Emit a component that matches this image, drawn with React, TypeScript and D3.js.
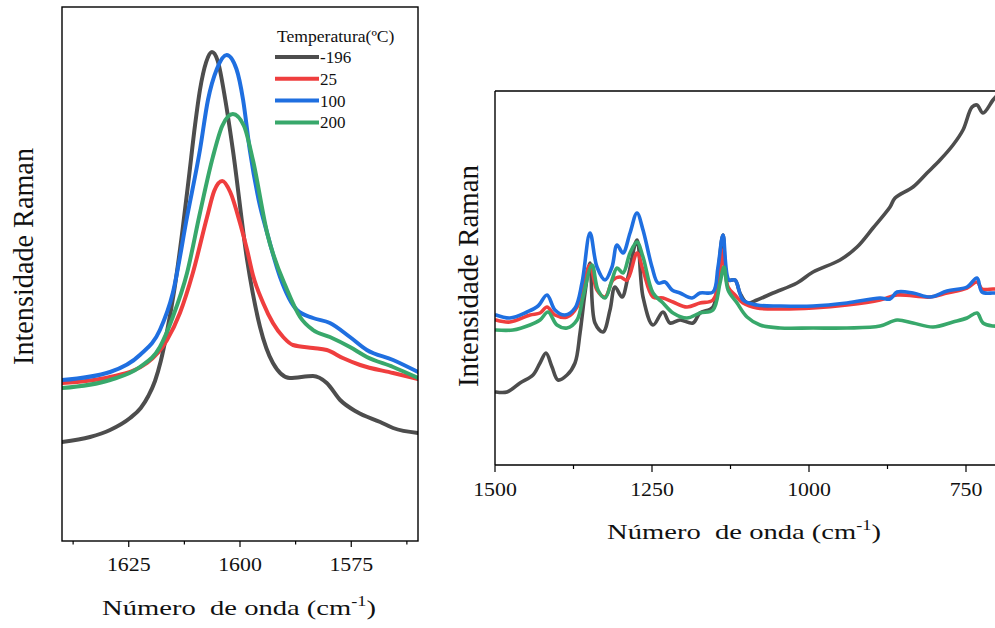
import React from "react";
import * as d3 from "d3";

type Pt = [number, number];

// ---------- Left panel (G band) : [wavenumber, intensity a.u.] ----------
const leftSeriesNames = ["-196", "25", "100", "200"];
const leftColors = ["#4d4d4d", "#ef3e3e", "#1f6fe0", "#38a86b"];

const leftBlack: Pt[] = [
  [1640, 99], [1633.7, 104], [1629.2, 111], [1624.7, 123], [1622.3, 133], [1620.6, 145],
  [1619.1, 160], [1617.8, 180], [1616.5, 207], [1614.8, 250], [1613, 308], [1611.5, 363],
  [1610.1, 416], [1609, 451], [1607.6, 479], [1606.3, 489], [1605, 480], [1603.3, 441],
  [1601.6, 391], [1598.4, 281], [1595.5, 214], [1592.6, 178], [1588.8, 163], [1583.6, 165],
  [1580.5, 158], [1577.5, 141], [1573.7, 129], [1568.5, 119], [1565.6, 113], [1560, 108],
];
const leftRed: Pt[] = [
  [1640, 158], [1629.2, 164], [1620.9, 178], [1616.4, 201], [1613.5, 228], [1610.6, 268],
  [1607.4, 324], [1605.8, 350], [1604, 360], [1602.2, 349], [1600, 318], [1598.4, 291],
  [1597.1, 266], [1594.8, 238], [1592.6, 218], [1590.3, 204], [1588.1, 196], [1583.6, 193],
  [1580.5, 191], [1576.9, 183], [1573, 176], [1565.6, 168], [1560, 162],
];
const leftBlue: Pt[] = [
  [1640, 161], [1629.2, 169], [1622.5, 186], [1618, 211], [1615.1, 248], [1611.9, 324],
  [1609, 391], [1607.2, 441], [1605.2, 472], [1603, 486], [1600.8, 472], [1599.3, 441],
  [1597.8, 391], [1595.8, 341], [1593.9, 308], [1591, 264], [1587.2, 231], [1583.6, 223],
  [1579.8, 218], [1575.3, 204], [1571.5, 191], [1565.6, 181], [1560, 169],
];
const leftGreen: Pt[] = [
  [1640, 153], [1629.2, 161], [1622.5, 174], [1618, 194], [1615.1, 224], [1611.9, 268],
  [1609, 328], [1606.1, 384], [1604, 415], [1601.6, 427], [1599.1, 415], [1597.1, 381],
  [1593.9, 308], [1589.4, 251], [1586.5, 224], [1583.6, 211], [1579.8, 204], [1575.3, 194],
  [1571.5, 184], [1565.6, 174], [1560, 163],
];

// ---------- Right panel (1500-700 cm-1) ----------
const rightBlack: Pt[] = [
  [1498.4, 73], [1480.9, 73], [1460.2, 82], [1439.5, 90], [1428.3, 102], [1418.8, 112],
  [1409.2, 98], [1399.7, 85], [1385.3, 90], [1372.6, 102], [1364.6, 132], [1356.7, 172],
  [1348.7, 202], [1340.8, 142], [1328, 133], [1316.9, 155], [1308.9, 178], [1297.8, 168],
  [1288.2, 188], [1273.9, 225], [1264.3, 168], [1248.4, 140], [1232.5, 153], [1221.3, 142],
  [1205.4, 145], [1184.7, 142], [1173.6, 152], [1152.9, 158], [1144.9, 192], [1136.9, 230],
  [1128.9, 185], [1117.8, 185], [1109.9, 172], [1098.7, 162], [1082.8, 165], [1057.3, 172],
  [1019.1, 182], [993.6, 193], [950.6, 205], [923.5, 218], [898.1, 237], [871, 258],
  [863, 267], [834.4, 278], [812.1, 292], [791.4, 305], [770.7, 320], [754.8, 335],
  [740.4, 358], [732.5, 360], [722.9, 352], [707, 365], [700, 370],
];
const rightRed: Pt[] = [
  [1498.4, 145], [1476.1, 143], [1444.3, 150], [1428.3, 152], [1417.2, 158], [1404.5, 150],
  [1385.3, 148], [1369.4, 158], [1359.9, 178], [1348.7, 200], [1337.6, 175], [1324.8, 168],
  [1312.1, 185], [1300.9, 188], [1289.8, 185], [1273.9, 212], [1264.3, 195], [1248.4, 168],
  [1232.5, 167], [1216.5, 163], [1194.3, 158], [1173.6, 162], [1152.9, 165], [1141.7, 192],
  [1136.9, 215], [1128.9, 178], [1117.8, 170], [1105.1, 162], [1082.8, 157], [1046.2, 156],
  [993.6, 157], [939.5, 160], [886.9, 165], [859.8, 170], [807.3, 168], [780.2, 172],
  [748.4, 177], [732.5, 183], [724.5, 176], [707, 176], [700, 176],
];
const rightBlue: Pt[] = [
  [1498.4, 150], [1476.1, 147], [1449, 153], [1431.5, 159], [1417.2, 170], [1404.5, 155],
  [1388.5, 150], [1372.6, 157], [1361.5, 182], [1348.7, 232], [1337.6, 198], [1324.8, 185],
  [1313.7, 198], [1305.7, 220], [1296.2, 212], [1285, 232], [1273.9, 252], [1264.3, 235],
  [1250, 198], [1240.4, 182], [1229.3, 183], [1218.1, 175], [1205.4, 172], [1186.3, 167],
  [1173.6, 172], [1152.9, 173], [1144.9, 198], [1136.9, 230], [1127.4, 185], [1117.8, 185],
  [1105.1, 165], [1082.8, 160], [1046.2, 159], [993.6, 159], [939.5, 162], [886.9, 167],
  [871, 166], [859.8, 173], [834.4, 172], [807.3, 168], [780.2, 174], [748.4, 178],
  [732.5, 187], [724.5, 173], [707, 172], [700, 172],
];
const rightGreen: Pt[] = [
  [1498.4, 135], [1471.3, 135], [1444.3, 140], [1428.3, 145], [1415.6, 153], [1401.3, 140],
  [1385.3, 137], [1369.4, 145], [1359.9, 168], [1345.5, 200], [1336, 175], [1324.8, 167],
  [1313.7, 185], [1305.7, 197], [1296.2, 192], [1285, 212], [1273.9, 223], [1264.3, 208],
  [1248.4, 172], [1232.5, 162], [1216.5, 152], [1194.3, 147], [1173.6, 152], [1152.9, 155],
  [1141.7, 182], [1135.3, 198], [1128.9, 175], [1114.6, 162], [1098.7, 148], [1078, 140],
  [1046.2, 137], [993.6, 137], [939.5, 137], [886.9, 139], [859.8, 145], [834.4, 142],
  [802.5, 138], [770.7, 143], [748.4, 147], [732.5, 152], [722.9, 142], [707, 139], [700, 139],
];

const leftMajorTicks = [1625, 1600, 1575];
const leftMinorTicks = [1637.5, 1612.5, 1587.5, 1562.5];
const rightMajorTicks = [1500, 1250, 1000, 750];
const rightMinorTicks = [1375, 1125, 875];

const legendTitle = "Temperatura(\u00baC)";
const xTitle = "N\u00famero  de onda (cm";
const yTitle = "Intensidade Raman";

const FONT = "'Liberation Serif', 'Times New Roman', serif";

export default function App() {
  const W = 995, H = 628;

  // left panel scales
  const L = { x0: 62, x1: 418, y0: 7, y1: 541 };
  const xL = d3.scaleLinear().domain([1640, 1560]).range([L.x0, L.x1]);
  const yL = d3.scaleLinear().domain([0, 534]).range([L.y1, L.y0]);
  // right panel scales
  const R = { x0: 495, x1: 997.4, y0: 91, y1: 465 };
  const xR = d3.scaleLinear().domain([1500, 700]).range([R.x0, R.x1]);
  const yR = d3.scaleLinear().domain([0, 374]).range([R.y1, R.y0]);

  const lineL = d3.line<Pt>().x(d => xL(d[0])).y(d => yL(d[1])).curve(d3.curveMonotoneX);
  const lineR = d3.line<Pt>().x(d => xR(d[0])).y(d => yR(d[1])).curve(d3.curveCatmullRom.alpha(0.5));

  const leftData = [leftBlack, leftRed, leftBlue, leftGreen];
  const rightData = [rightBlack, rightRed, rightBlue, rightGreen];

  const tickLabel = (x: number, y: number, t: string, key: string) => (
    <text key={key} transform={`translate(${x},${y}) scale(1.15,1)`} textAnchor="middle"
      fontSize={19} fontFamily={FONT} fill="#111">{t}</text>
  );

  const xAxisTitle = (cx: number, by: number) => (
    <text transform={`translate(${cx},${by}) scale(1.3,1)`} textAnchor="middle" fontSize={22}
      fontFamily={FONT} fill="#111" style={{ whiteSpace: "pre" }}>
      {xTitle}
      <tspan dy={-9} fontSize={14}>-1</tspan>
      <tspan dy={9}>)</tspan>
    </text>
  );

  const yAxisTitle = (bx: number, cy: number, len: number) => (
    <g transform={`translate(${bx},${cy}) scale(1.3,1) rotate(-90)`}>
      <text textAnchor="middle" fontSize={23} fontFamily={FONT} fill="#111"
        textLength={len} lengthAdjust="spacingAndGlyphs">{yTitle}</text>
    </g>
  );

  return (
    <svg width={W} height={H} style={{ position: "absolute", left: 0, top: 0, background: "#fff" }}>
      <defs>
        <clipPath id="clipL"><rect x={L.x0} y={L.y0} width={L.x1 - L.x0} height={L.y1 - L.y0} /></clipPath>
        <clipPath id="clipR"><rect x={R.x0} y={R.y0} width={R.x1 - R.x0} height={R.y1 - R.y0} /></clipPath>
      </defs>
      <rect width={W} height={H} fill="#fff" />

      {/* ---------- Left panel ---------- */}
      <g clipPath="url(#clipL)">
        {leftData.map((d, i) => (
          <path key={i} d={lineL(d) || ""} fill="none" stroke={leftColors[i]} strokeWidth={4}
            strokeLinejoin="round" strokeLinecap="round" />
        ))}
      </g>
      <rect x={L.x0} y={L.y0} width={L.x1 - L.x0} height={L.y1 - L.y0} fill="none" stroke="#000" strokeWidth={1.4} />
      {leftMajorTicks.map(t => (
        <line key={"lM" + t} x1={xL(t)} x2={xL(t)} y1={L.y1} y2={L.y1 + 6} stroke="#000" strokeWidth={1.2} />
      ))}
      {leftMinorTicks.map(t => (
        <line key={"lm" + t} x1={xL(t)} x2={xL(t)} y1={L.y1} y2={L.y1 + 3.5} stroke="#000" strokeWidth={1.2} />
      ))}
      {leftMajorTicks.map(t => tickLabel(xL(t), 571, String(t), "ll" + t))}
      {xAxisTitle(239, 615)}
      {yAxisTitle(33, 256.5, 217)}

      {/* legend */}
      <text transform="translate(277,41.5) scale(1.1,1)" fontSize={16} fontFamily={FONT} fill="#111">{legendTitle}</text>
      {leftSeriesNames.map((n, i) => (
        <g key={n}>
          <line x1={275} x2={319} y1={57 + i * 21.8} y2={57 + i * 21.8} stroke={leftColors[i]} strokeWidth={4} />
          <text x={320} y={63 + i * 21.8} fontSize={17} fontFamily={FONT} fill="#111">{n}</text>
        </g>
      ))}

      {/* ---------- Right panel ---------- */}
      <g clipPath="url(#clipR)">
        {rightData.map((d, i) => (
          <path key={i} d={lineR(d) || ""} fill="none" stroke={leftColors[i]} strokeWidth={3.6}
            strokeLinejoin="round" strokeLinecap="round" />
        ))}
      </g>
      <line x1={R.x0} x2={W + 5} y1={R.y0} y2={R.y0} stroke="#000" strokeWidth={1.4} />
      <line x1={R.x0} x2={W + 5} y1={R.y1} y2={R.y1} stroke="#000" strokeWidth={1.4} />
      <line x1={R.x0} x2={R.x0} y1={R.y0} y2={R.y1} stroke="#000" strokeWidth={1.4} />
      {rightMajorTicks.map(t => (
        <line key={"rM" + t} x1={xR(t)} x2={xR(t)} y1={R.y1} y2={R.y1 + 7} stroke="#000" strokeWidth={1.2} />
      ))}
      {rightMinorTicks.map(t => (
        <line key={"rm" + t} x1={xR(t)} x2={xR(t)} y1={R.y1} y2={R.y1 + 4} stroke="#000" strokeWidth={1.2} />
      ))}
      {rightMajorTicks.map(t => tickLabel(xR(t), 496, String(t), "rl" + t))}
      {xAxisTitle(744, 539)}
      {yAxisTitle(478, 276, 222)}
    </svg>
  );
}
